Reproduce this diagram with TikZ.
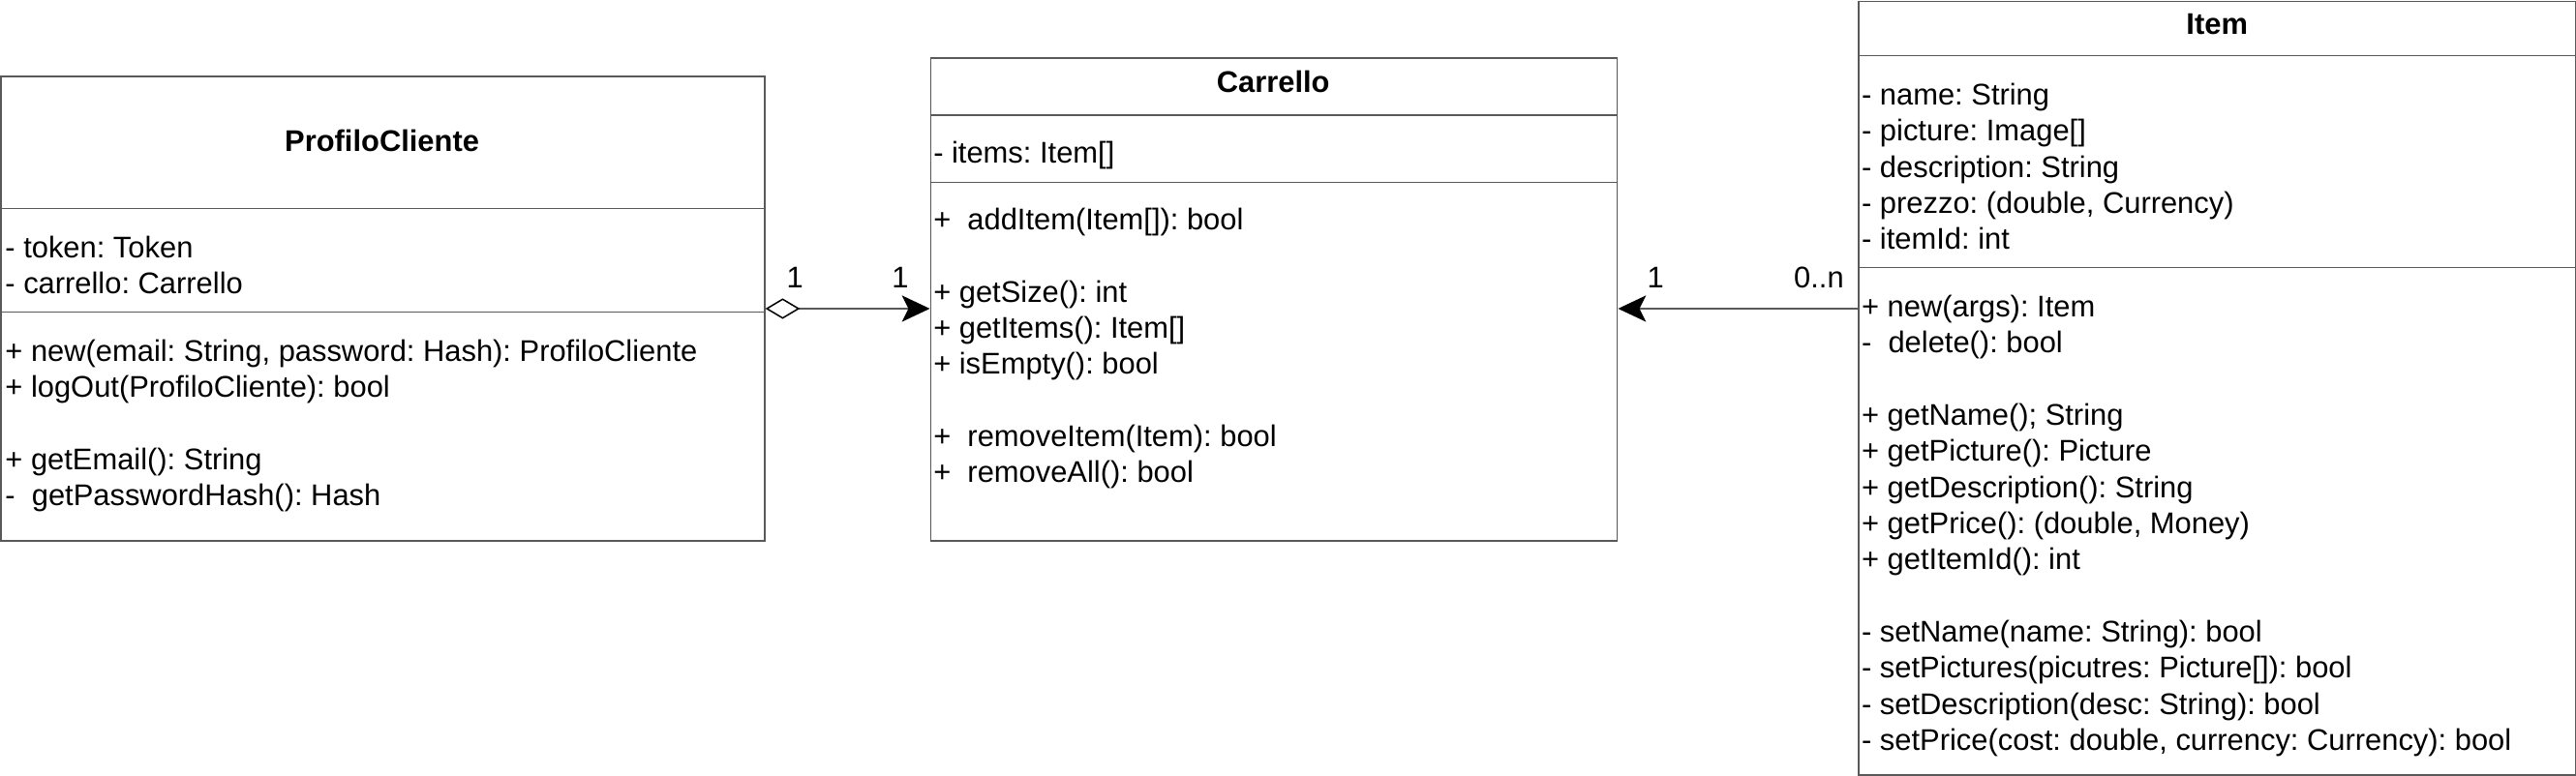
\documentclass[tikz,border=0pt]{standalone}
\usepackage{fontspec}
\setmainfont{Liberation Sans}
\usetikzlibrary{positioning,arrows.meta}

\newcommand{\umlsize}{\fontsize{18.2}{22}\selectfont\frenchspacing}

\begin{document}
\begin{tikzpicture}[
  x=1pt, y=-1pt,
  font=\umlsize,
  classbox/.style={draw=black!65, line width=0.9pt, anchor=north west, inner sep=0pt},
  title/.style={font=\umlsize\bfseries, inner sep=0pt},
  members/.style={anchor=north west, inner sep=0pt, align=left},
  divider/.style={draw=black!65, line width=0.9pt},
  aggr/.style={draw=black!65, line width=0.9pt,
    {Diamond[open, length=21pt, width=12.5pt, black]}-{Stealth[length=17pt, width=16pt, inset=4pt, black]}},
  assoc/.style={draw=black!65, line width=0.9pt, -{Stealth[length=17pt, width=16pt, inset=4pt, black]}},
  mult/.style={above=12pt, inner sep=0pt}
]

% page and margins
\fill[white] (0,0) rectangle (1568,472);
\useasboundingbox (0,0) rectangle (1568,472);

% ProfiloCliente
\node[classbox, minimum width=465pt, minimum height=283pt] (pc) at (0,46) {};
\node[title] (pctitle) at (232.5,86) {ProfiloCliente};
\draw[divider] (0,127) -- (465,127);
\draw[divider] (0,190) -- (465,190);
\node[members] (pcattr) at (3,141.4) {\strut- token: Token\\- carrello: Carrello};
\node[members] (pcops) at (3,204.4) {\strut+ new(email: String, password: Hash): ProfiloCliente\\
  + logOut(ProfiloCliente): bool\\[22pt]
  + getEmail(): String\\
  -\ \ getPasswordHash(): Hash};

% Carrello
\node[classbox, minimum width=418pt, minimum height=294pt] (cart) at (566,35) {};
\node[title] (carttitle) at (775,50) {Carrello};
\draw[divider] (566,70) -- (984,70);
\draw[divider] (566,111) -- (984,111);
\node[members] (cartattr) at (568,83.4) {\strut- items: Item[]};
\node[members] (cartops) at (568,124.4) {\strut+\ \ addItem(Item[]): bool\\[22pt]
  + getSize(): int\\
  + getItems(): Item[]\\
  + isEmpty(): bool\\[22pt]
  +\ \ removeItem(Item): bool\\
  +\ \ removeAll(): bool};

% Item
\node[classbox, minimum width=436.5pt, minimum height=471pt] (item) at (1131,0.5) {};
\node[title] (itemtitle) at (1349.5,15) {Item};
\draw[divider] (1131,34) -- (1567.5,34);
\draw[divider] (1131,163) -- (1567.5,163);
\node[members] (itemattr) at (1133,48.4) {\strut- name: String\\
  - picture: Image[]\\
  - description: String\\
  - prezzo: (double, Currency)\\
  - itemId: int};
\node[members] (itemops) at (1133,177.4) {\strut+ new(args): Item\\
  -\ \ delete(): bool\\[22pt]
  + getName(); String\\
  + getPicture(): Picture\\
  + getDescription(): String\\
  + getPrice(): (double, Money)\\
  + getItemId(): int\\[22pt]
  - setName(name: String): bool\\
  - setPictures(picutres: Picture[]): bool\\
  - setDescription(desc: String): bool\\
  - setPrice(cost: double, currency: Currency): bool};

% relations
\draw[aggr] (pc.east) -- (pc.east -| cart.west)
  node[mult, pos=0.18] (pcmult) {1}
  node[mult, pos=0.82] (cartmult) {1};
\draw[assoc] (item.west |- pc.east) -- (cart.east |- pc.east)
  node[mult, pos=0.163] (itemmult) {0..n}
  node[mult, pos=0.844] (cartmult2) {1};

\end{tikzpicture}
\end{document}
